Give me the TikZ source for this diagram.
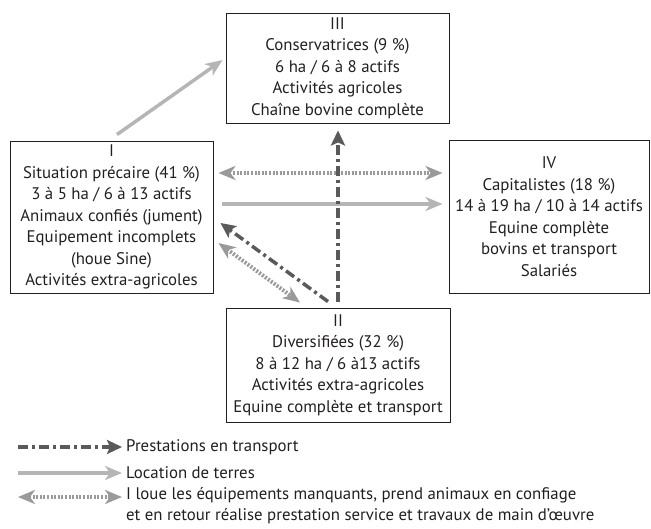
\documentclass[tikz,border=0pt]{standalone}
\usepackage{fontspec}
\setmainfont{PT Sans}
\usepackage{tikz}
\usepackage{xcolor}
\usetikzlibrary{arrows.meta}

\definecolor{darkline}{HTML}{5A5A5A}
\definecolor{lightline}{HTML}{B5B5B5}
\definecolor{midline}{HTML}{9A9A9A}
\definecolor{inktext}{HTML}{231F20}

\tikzset{
	groupbox/.style={draw=inktext,line width=0.9pt,align=center,text=inktext,
		inner sep=0pt,font=\fontsize{16.8}{21.5}\selectfont},
	transport/.style={darkline,line width=3.5pt,
		dash pattern=on 10pt off 4pt on 3pt off 4pt,
		-{Stealth[length=15pt,width=14pt,inset=3pt]}},
	location/.style={lightline,line width=3.5pt,
		-{Stealth[length=17pt,width=14pt,inset=5pt]}},
	service/.style={midline,line width=4pt,dash pattern=on 2pt off 1.6pt,
		{Stealth[length=17pt,width=14pt,inset=5pt]}-{Stealth[length=17pt,width=14pt,inset=5pt]}},
	legendtext/.style={anchor=west,align=left,text=inktext,inner sep=0pt,
		font=\fontsize{16.8}{21}\selectfont}
}

\begin{document}
\begin{tikzpicture}[x=1pt,y=-1pt]
	\useasboundingbox (0,0) rectangle (651,529);

	% groupes
	\node [groupbox,minimum width=203pt,minimum height=152pt] (I) at (111.5,217)
		{I\\Situation précaire (41 \%)\\3 à 5 ha / 6 à 13 actifs\\Animaux confiés (jument)\\Equipement incomplets\\(houe Sine)\\Activités extra-agricoles};
	\node [groupbox,minimum width=223pt,minimum height=110pt] (III) at (337.5,68)
		{III\\Conservatrices (9 \%)\\6 ha / 6 à 8 actifs\\Activités agricoles\\Chaîne bovine complète};
	\node [groupbox,minimum width=200pt,minimum height=153pt] (IV) at (549,216.5)
		{IV\\Capitalistes (18 \%)\\14 à 19 ha / 10 à 14 actifs\\Equine complète\\bovins et transport\\Salariés};
	\node [groupbox,minimum width=224pt,minimum height=114pt] (II) at (338,365)
		{II\\Diversifiées (32 \%)\\8 à 12 ha / 6 à13 actifs\\Activités extra-agricoles\\Equine complète et transport};

	% relations
	\draw [location] ([xshift=5.5pt,yshift=6pt]I.north) -- ([xshift=-3pt,yshift=8pt]III.west);
	\draw [service,shorten <=5pt,shorten >=6pt] ([yshift=44pt]I.east) -- ([yshift=44pt]I.east -| IV.west);
	\draw [location,shorten <=9pt,shorten >=6pt] ([yshift=13pt]I.east) -- ([yshift=13pt]I.east -| IV.west);
	\draw [transport,shorten <=6pt,shorten >=7pt] (II.north) -- (II.north |- III.south);
	\draw [transport] ([xshift=-10pt,yshift=6pt]II.north) -- ([xshift=7pt,yshift=-6pt]I.east);
	\draw [service] ([xshift=5pt,yshift=-26pt]I.east) -- ([xshift=-38pt,yshift=5pt]II.north);

	% legende
	\node [legendtext] (lgtransport) at (126,447) {Prestations en transport};
	\node [legendtext] (lglocation) at (126,473) {Location de terres};
	\node [legendtext,anchor=north west] (lgservice) at (126,487)
		{I loue les équipements manquants, prend animaux en confiage\\et en retour réalise prestation service et travaux de main d’œuvre};
	\coordinate (lgtransportstart) at (18,447);
	\coordinate (lglocationstart) at (18,473);
	\coordinate (lgservicestart) at (18,497);
	\draw [transport,shorten >=4pt] (lgtransportstart) -- (lgtransport.west);
	\draw [location,shorten >=4pt] (lglocationstart) -- (lglocation.west);
	\draw [service,shorten >=4pt] (lgservicestart) -- (lgservicestart -| lgservice.west);
\end{tikzpicture}
\end{document}
